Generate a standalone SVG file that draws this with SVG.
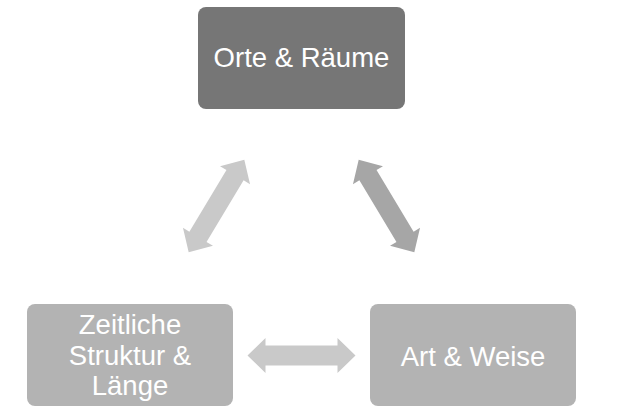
<svg xmlns="http://www.w3.org/2000/svg" xmlns:xlink="http://www.w3.org/1999/xlink" width="626" height="412" viewBox="0 0 626 412">
<style>
.box{stroke:none}
.lbl{font-family:"Liberation Sans",Arial,sans-serif;font-size:27.5px;fill:#ffffff;text-anchor:middle}
</style>
<defs>
<polygon id="dblarrow" points="-54,0 -36,-17.5 -36,-10 36,-10 36,-17.5 54,0 36,17.5 36,10 -36,10 -36,17.5"/>
</defs>
<rect width="626" height="412" fill="#ffffff"/>
<g id="connectors">
<use xlink:href="#dblarrow" fill="#c9c9c9" transform="translate(216.5,206) rotate(-59)"/>
<use xlink:href="#dblarrow" fill="#a6a6a6" transform="translate(386.5,206) rotate(59)"/>
<use xlink:href="#dblarrow" fill="#c9c9c9" transform="translate(301.5,355.5)"/>
</g>
<g id="orte">
<rect class="box" x="198" y="7" width="207" height="102" rx="8" fill="#767676"/>
<text class="lbl" x="301.5" y="67">Orte &amp; Räume</text>
</g>
<g id="zeitliche">
<rect class="box" x="27" y="304" width="206" height="102" rx="8" fill="#b3b3b3"/>
<text class="lbl" x="130" y="334">Zeitliche</text>
<text class="lbl" x="130" y="365">Struktur &amp;</text>
<text class="lbl" x="130" y="395">Länge</text>
</g>
<g id="art">
<rect class="box" x="370" y="304" width="206" height="102" rx="8" fill="#b3b3b3"/>
<text class="lbl" x="473" y="366">Art &amp; Weise</text>
</g>
</svg>
